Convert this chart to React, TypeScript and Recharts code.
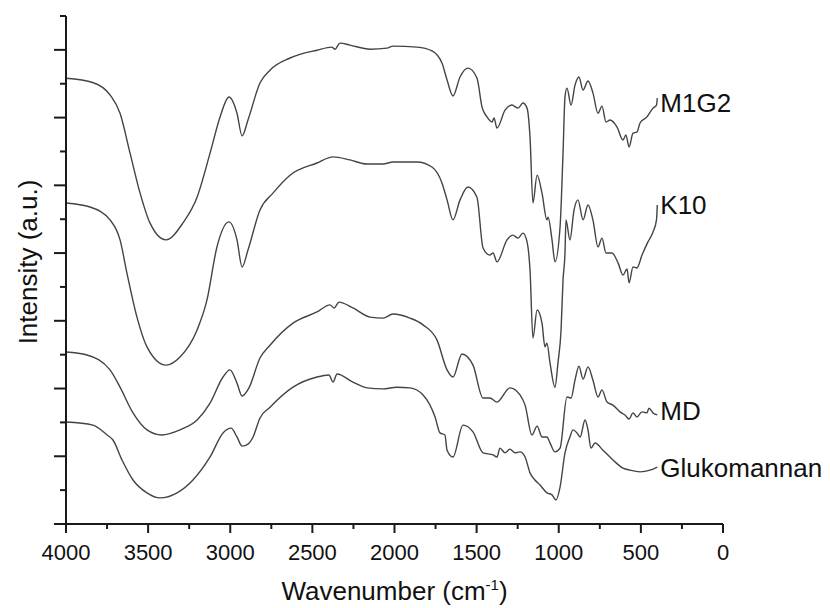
import React from 'react';
import { LineChart, Line, XAxis, YAxis, Label, LabelList } from 'recharts';

// FTIR spectra: [wavenumber (cm-1), intensity (a.u.)]
const M1G2: [number, number][] = [
  [4000, 13.16], [3834, 13.03], [3732, 12.67], [3671, 12.13], [3610, 10.95], [3549, 9.77], [3489, 8.89],
  [3391, 8.39], [3288, 8.89], [3202, 9.65], [3123, 10.95], [3062, 12.02], [3008, 12.61], [2959, 12.13],
  [2928, 11.46], [2892, 11.93], [2819, 13.02], [2758, 13.4], [2636, 13.76], [2472, 13.99], [2381, 14.08],
  [2362, 14.02], [2332, 14.2], [2271, 14.14], [2149, 14.02], [2046, 14.05], [2009, 14.11], [1863, 14.08],
  [1772, 13.97], [1711, 13.61], [1680, 13.11], [1644, 12.64], [1601, 13.2], [1553, 13.46], [1498, 13.17],
  [1467, 12.31], [1437, 12.02], [1406, 11.87], [1394, 11.99], [1376, 11.69], [1327, 12.22], [1285, 12.37],
  [1248, 12.28], [1218, 12.43], [1193, 12.28], [1175, 11.43], [1157, 9.48], [1132, 10.3], [1102, 9.77],
  [1072, 8.98], [1065, 9.06], [1041, 8.39], [1023, 7.74], [992, 8.77], [974, 10.95], [962, 12.61],
  [950, 12.87], [925, 12.37], [901, 12.96], [877, 13.2], [852, 12.81], [822, 13.08], [792, 12.73],
  [761, 12.13], [737, 12.34], [712, 11.87], [688, 11.93], [645, 11.72], [609, 11.34], [591, 11.49],
  [572, 11.13], [548, 11.54], [524, 11.57], [505, 11.84], [463, 12.02], [426, 12.28], [405, 12.37], [400, 12.58],
];

const K10: [number, number][] = [
  [4000, 9.48], [3854, 9.36], [3732, 8.98], [3671, 8.39], [3629, 7.41], [3568, 6.11], [3507, 5.23],
  [3391, 4.69], [3306, 4.93], [3202, 5.73], [3142, 6.61], [3081, 8.18], [3008, 8.92], [2959, 8.39],
  [2928, 7.59], [2892, 8.09], [2819, 9.27], [2740, 9.77], [2636, 10.3], [2472, 10.66], [2374, 10.84],
  [2271, 10.75], [2167, 10.63], [2070, 10.63], [2009, 10.69], [1863, 10.69], [1772, 10.54], [1711, 10.07],
  [1680, 9.57], [1644, 8.98], [1601, 9.57], [1553, 9.95], [1498, 9.65], [1461, 8.15], [1419, 7.94],
  [1400, 8.0], [1376, 7.74], [1315, 8.39], [1279, 8.53], [1248, 8.44], [1218, 8.59], [1193, 8.33],
  [1175, 7.5], [1157, 5.49], [1132, 6.32], [1102, 5.93], [1084, 5.23], [1072, 5.34], [1053, 4.75],
  [1023, 4.04], [1005, 4.75], [986, 5.73], [974, 7.2], [962, 8.0], [956, 8.98], [932, 8.39], [907, 9.27],
  [883, 9.57], [852, 8.98], [822, 9.42], [792, 8.98], [761, 8.18], [737, 8.44], [712, 8.0], [676, 8.0],
  [639, 7.71], [609, 7.35], [584, 7.53], [572, 7.12], [548, 7.59], [524, 7.56], [493, 7.94], [457, 8.33],
  [426, 8.62], [405, 8.98], [400, 9.42],
];

const MD: [number, number][] = [
  [4000, 5.08], [3872, 4.99], [3732, 4.55], [3671, 4.04], [3592, 3.28], [3507, 2.78], [3416, 2.63],
  [3306, 2.78], [3202, 3.07], [3123, 3.57], [3044, 4.34], [3002, 4.55], [2959, 4.16], [2928, 3.78],
  [2886, 4.02], [2819, 4.9], [2758, 5.28], [2618, 5.93], [2472, 6.26], [2393, 6.47], [2368, 6.38],
  [2338, 6.55], [2253, 6.38], [2149, 6.11], [2070, 6.08], [2009, 6.2], [1906, 6.08], [1826, 5.88],
  [1741, 5.43], [1680, 4.55], [1644, 4.34], [1589, 5.02], [1522, 4.69], [1461, 3.72], [1419, 3.72],
  [1376, 3.6], [1297, 4.02], [1236, 3.81], [1205, 3.51], [1163, 2.63], [1132, 2.89], [1102, 2.57],
  [1072, 2.57], [1053, 2.39], [1023, 2.13], [992, 2.24], [950, 3.75], [925, 3.72], [901, 4.25],
  [877, 4.66], [852, 4.28], [822, 4.64], [792, 4.25], [761, 3.75], [737, 3.96], [706, 3.6], [670, 3.51],
  [627, 3.31], [597, 3.22], [572, 3.1], [548, 3.28], [524, 3.16], [493, 3.31], [463, 3.28], [451, 3.42],
  [426, 3.28], [400, 3.22],
];

const GLUKOMANNAN: [number, number][] = [
  [4000, 3.01], [3836, 2.92], [3750, 2.63], [3714, 2.48], [3659, 1.89], [3592, 1.3], [3507, 0.92],
  [3428, 0.77], [3324, 0.92], [3227, 1.3], [3123, 1.98], [3044, 2.69], [2995, 2.83], [2959, 2.57],
  [2928, 2.3], [2892, 2.36], [2861, 2.57], [2819, 3.13], [2758, 3.45], [2618, 4.04], [2472, 4.34],
  [2399, 4.4], [2374, 4.19], [2350, 4.43], [2253, 4.19], [2167, 4.02], [2070, 3.99], [1985, 4.04],
  [1906, 4.02], [1826, 3.81], [1753, 3.16], [1723, 2.69], [1693, 2.63], [1680, 2.18], [1644, 1.98],
  [1583, 2.92], [1522, 2.72], [1461, 2.1], [1400, 2.04], [1376, 1.98], [1358, 2.24], [1327, 2.1],
  [1297, 2.21], [1266, 2.1], [1236, 2.13], [1205, 1.98], [1175, 1.51], [1145, 1.3], [1114, 1.15],
  [1072, 0.92], [1041, 0.86], [1017, 0.71], [992, 1.09], [962, 2.1], [932, 2.57], [913, 2.78],
  [889, 2.69], [870, 2.57], [840, 3.07], [822, 2.78], [804, 2.24], [779, 2.39], [731, 2.18], [670, 1.89],
  [609, 1.65], [566, 1.59], [505, 1.54], [444, 1.59], [400, 1.68],
];

const X_TICKS = [0, 250, 500, 750, 1000, 1250, 1500, 1750, 2000, 2250, 2500, 2750, 3000, 3250, 3500, 3750, 4000];
const Y_TICKS = [0, 1, 2, 3, 4, 5, 6, 7, 8, 9, 10, 11, 12, 13, 14, 15];

const FONT = '"Liberation Sans", Arial, sans-serif';
const AXIS = '#1a1a1a';
const TRACE = '#444';

const SERIES = [
  { name: 'M1G2', points: M1G2, dy: 14 },
  { name: 'K10', points: K10, dy: 9 },
  { name: 'MD', points: MD, dy: 5 },
  { name: 'Glukomannan', points: GLUKOMANNAN, dy: 10 },
];

const toRows = (pts: [number, number][], name: string) =>
  pts.map(([wn, v], i) => ({ wn, v, name: i === pts.length - 1 ? name : undefined }));

const XTick = ({ x, y, payload }: any) => {
  const major = payload.value % 500 === 0;
  return (
    <g>
      <line x1={x} y1={y} x2={x} y2={y + (major ? 9 : 5)} stroke={AXIS} strokeWidth={2} />
      {major && (
        <text x={x} y={y + 36} textAnchor="middle" fontSize={22} fontFamily={FONT} fill="#111">
          {payload.value}
        </text>
      )}
    </g>
  );
};

const YTick = ({ x, y, payload }: any) => {
  const major = payload.value % 2 === 0;
  return <line x1={x - (major ? 12 : 6)} y1={y} x2={x} y2={y} stroke={AXIS} strokeWidth={2} />;
};

const XTitle = ({ viewBox }: any) => {
  const cx = viewBox.x + viewBox.width / 2;
  return (
    <text x={cx} y={viewBox.y + 76} textAnchor="middle" fontSize={26} fontFamily={FONT} fill="#111">
      Wavenumber (cm
      <tspan dy={-10} fontSize={15}>-1</tspan>
      <tspan dy={10}>)</tspan>
    </text>
  );
};

const YTitle = ({ viewBox }: any) => {
  const cy = viewBox.y + viewBox.height / 2 - 8;
  return (
    <text
      x={37}
      y={cy}
      transform={`rotate(-90, 37, ${cy})`}
      textAnchor="middle"
      fontSize={26}
      fontFamily={FONT}
      fill="#111"
    >
      Intensity (a.u.)
    </text>
  );
};

const endLabel = (dy: number) => (props: any) => {
  const { value } = props;
  if (!value) return null;
  const x = props.x ?? props.viewBox?.x;
  const y = props.y ?? props.viewBox?.y;
  return (
    <text x={x + 3} y={y + dy} fontSize={26} fontFamily={FONT} fill="#111">
      {value}
    </text>
  );
};

export default function App() {
  return (
    <div style={{ position: 'absolute', left: 0, top: 0, width: 830, height: 608, background: '#fff' }}>
      <LineChart width={830} height={608} margin={{ top: 16, right: 107, left: 0, bottom: 0 }}>
        <XAxis
          type="number"
          dataKey="wn"
          domain={[0, 4000]}
          reversed
          ticks={X_TICKS}
          interval={0}
          height={84}
          tickSize={0}
          tickMargin={0}
          tickLine={false}
          tick={<XTick />}
          axisLine={{ stroke: AXIS, strokeWidth: 2 }}
          allowDataOverflow
        >
          <Label content={<XTitle />} />
        </XAxis>
        <YAxis
          type="number"
          domain={[0, 15]}
          ticks={Y_TICKS}
          interval={0}
          width={66}
          tickSize={0}
          tickMargin={0}
          tickLine={false}
          tick={<YTick />}
          axisLine={{ stroke: AXIS, strokeWidth: 2 }}
          allowDataOverflow
        >
          <Label content={<YTitle />} />
        </YAxis>
        {SERIES.map((s) => (
          <Line
            key={s.name}
            data={toRows(s.points, s.name)}
            dataKey="v"
            type="monotone"
            stroke={TRACE}
            strokeWidth={1.4}
            dot={false}
            isAnimationActive={false}
          >
            <LabelList dataKey="name" content={endLabel(s.dy)} />
          </Line>
        ))}
      </LineChart>
    </div>
  );
}
